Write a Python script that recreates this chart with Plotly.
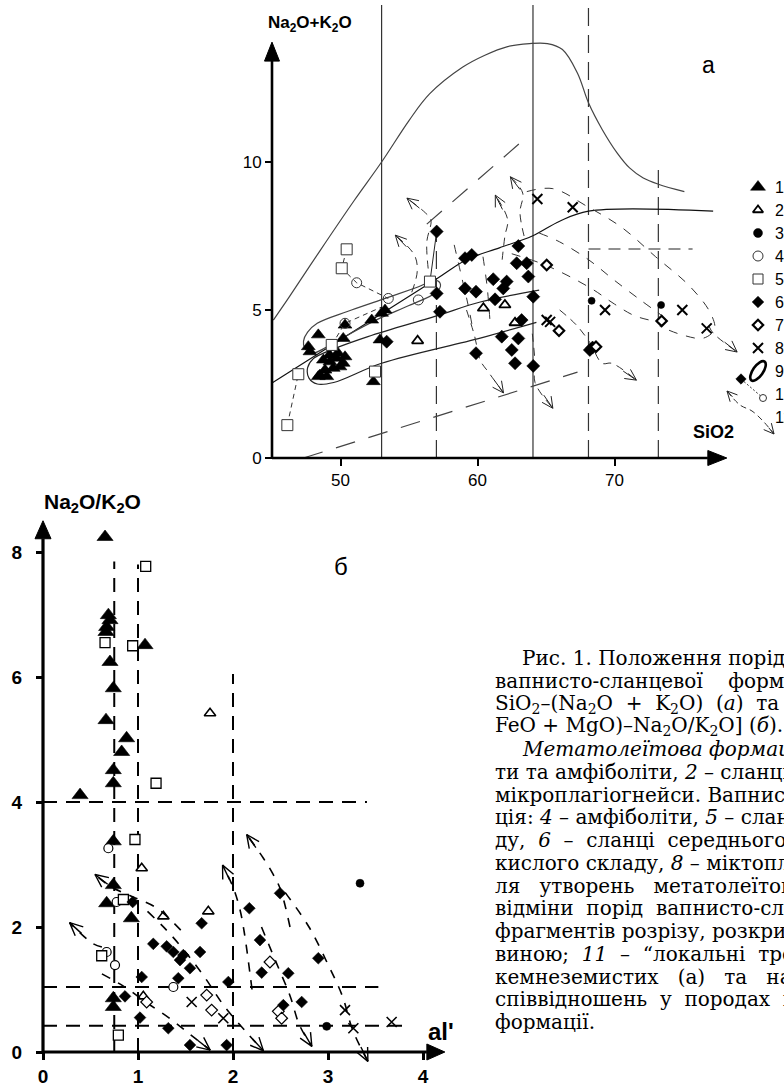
import math
import plotly.graph_objects as go

W, H = 784, 1086

# =====================  Panel (а): SiO2 – (Na2O+K2O)  =====================
a_xticks = [50, 60, 70]
a_yticks = [0, 5, 10]

# 1 – filled triangles
a_s1_x = [48.38, 47.65, 47.77, 50.33, 50.2, 52.28, 53.0, 53.25, 52.88, 52.4, 48.5, 48.87,
          49.23, 49.72, 50.2, 50.33, 48.75, 49.47, 49.96, 49.0, 48.38, 49.2, 49.8]
a_s1_y = [4.16, 3.76, 3.59, 4.49, 4.04, 4.66, 4.89, 5.0, 3.99, 2.58, 2.8, 2.97,
          3.25, 3.37, 3.2, 3.42, 3.31, 3.03, 3.08, 2.75, 2.75, 3.48, 3.55]
# 2 – open triangles
a_s2_x = [55.63, 60.43, 62.0, 62.74]
a_s2_y = [3.96, 5.06, 5.17, 4.57]
# 3 – filled circles
a_s3_x = [68.33, 73.4]
a_s3_y = [5.31, 5.17]
# 4 – open circles
a_s4_x = [51.18, 53.49, 55.68, 50.33]
a_s4_y = [5.92, 5.39, 5.34, 4.55]
# 5 – open squares
a_s5_x = [50.45, 50.09, 46.92, 46.12, 52.52, 49.36, 56.53]
a_s5_y = [7.05, 6.41, 2.83, 1.11, 2.92, 3.82, 5.96]
# 6 – filled diamonds
a_s6_x = [59.09, 59.58, 62.98, 62.86, 63.59, 63.71, 61.15, 62.13, 61.88, 59.09, 59.89, 61.28,
          57.02, 57.26, 53.37, 64.07, 63.22, 61.77, 62.98, 62.5, 62.74, 59.89, 64.07, 57.02,
          68.4, 68.2]
a_s6_y = [6.75, 6.86, 7.16, 6.58, 6.58, 6.13, 6.04, 5.96, 5.73, 5.73, 5.62, 5.36,
          5.56, 4.94, 3.93, 5.45, 4.66, 4.1, 4.04, 3.65, 3.2, 3.54, 3.11, 7.65,
          3.73, 3.65]
# 7 – open diamonds
a_s7_x = [65.05, 65.95, 73.44, 68.65]
a_s7_y = [6.52, 4.3, 4.63, 3.76]
# 8 – crosses
a_s8_x = [64.37, 66.95, 69.31, 74.95, 76.73, 65.05, 65.3]
a_s8_y = [8.75, 8.47, 5.0, 5.0, 4.38, 4.66, 4.6]

# boundary curves
a_top_x = [45.1, 46.2, 48.5, 51.0, 53.0, 55.0, 56.5, 58.9, 60.5, 62.2, 63.8, 65.1, 66.2,
           67.3, 68.1, 69.1, 70.2, 71.1, 72.1, 73.2, 75.1]
a_top_y = [4.66, 5.4, 7.0, 8.7, 10.0, 11.4, 12.3, 13.2, 13.6, 13.9, 14.0, 14.0, 13.8,
           13.0, 12.0, 11.1, 10.3, 9.8, 9.46, 9.25, 9.0]
a_bnd_x = [45.0, 57.0, 59.2, 61.6, 64.0, 66.0, 68.1, 77.2]
a_bnd_y = [2.53, 6.05, 6.7, 7.1, 7.5, 8.0, 8.34, 8.34]
# 9 – fields (envelopes)
a_envA_x = [47.3, 47.6, 48.3, 50.5, 53.0, 55.5, 57.0, 57.3, 57.0, 55.0, 53.0, 50.5, 49.0, 48.0, 47.4, 47.3]
a_envA_y = [3.95, 4.25, 4.55, 4.95, 5.35, 5.75, 6.0, 5.85, 5.6, 5.15, 4.75, 4.15, 3.75, 3.55, 3.7, 3.95]
a_envB_x = [64.5, 60.2, 57.0, 52.0, 48.8, 48.0, 47.6, 47.7, 48.3, 49.5, 53.0, 60.2, 64.3]
a_envB_y = [5.67, 5.27, 4.8, 4.1, 3.55, 3.35, 3.05, 2.7, 2.5, 2.55, 3.2, 4.05, 4.58]
# dashed long lines
a_dl1_x = [47.3, 67.3]
a_dl1_y = [0.0, 2.9]
a_dl2_x = [56.3, 63.5]
a_dl2_y = [7.9, 10.8]
# verticals / horizontals
a_vsolid = [53.0, 64.05]
a_vdash_x = [57.0, 68.1, 73.2]
a_vdash_top = [7.6, 15.3, 10.0]
a_hdash_y = [7.06]
a_hdash_x0 = [68.1]
a_hdash_x1 = [75.7]
# 10 – tie lines
a_tie1_x = [50.45, 50.09, 51.18, 53.49]
a_tie1_y = [7.05, 6.41, 5.92, 5.39]
a_tie2_x = [46.12, 46.92]
a_tie2_y = [1.11, 2.83]
a_tie3_x = [49.36, 50.33, 53.0]
a_tie3_y = [3.82, 4.55, 5.1]
a_tie4_x = [56.53, 57.02]
a_tie4_y = [5.96, 7.65]
# 11 – trends (last point = arrow tip)
a_trends = [
    ([56.4, 56.3, 56.6, 56.2, 54.85], [6.4, 7.3, 8.05, 8.28, 8.78]),
    ([55.2, 55.6, 55.4, 54.0], [5.6, 6.3, 6.85, 7.53]),
    ([61.8, 62.0, 62.2, 61.3], [6.7, 7.5, 8.05, 8.88]),
    ([63.4, 63.1, 63.3, 62.4], [7.5, 8.3, 8.95, 9.5]),
    ([59.2, 59.8, 60.2, 60.8, 61.9], [5.0, 4.1, 3.3, 2.9, 2.2]),
    ([64.0, 64.2, 64.2, 65.5], [4.2, 3.2, 2.55, 1.68]),
    ([66.0, 67.2, 68.2, 69.1, 69.8, 71.6], [5.0, 4.5, 3.9, 3.2, 3.2, 2.63]),
    ([76.9, 77.2, 78.95], [4.45, 4.22, 3.58]),
]
a_loops = [
    ([63.6, 65.5, 68.0, 70.5, 73.0, 75.5, 77.0, 77.3, 76.5, 75.0, 73.3],
     [9.0, 9.1, 8.5, 7.8, 6.8, 5.8, 4.9, 4.35, 4.05, 4.15, 4.45]),
    ([64.5, 66.0, 68.1, 70.0, 72.0, 73.5], [7.6, 7.3, 6.7, 6.0, 5.3, 4.8]),
    ([62.5, 64.5, 66.0, 68.4, 70.0, 71.5, 73.2], [6.9, 6.6, 6.3, 5.7, 5.2, 4.8, 4.6]),
    ([58.3, 58.8, 59.3, 59.6], [7.2, 6.2, 5.2, 4.5]),
    ([60.4, 60.7, 60.9], [6.8, 5.8, 4.7]),
]
a_axis_end = [78.2, 14.05]

# =====================  Panel (б): al' – Na2O/K2O  =====================
b_xticks = [0, 1, 2, 3, 4]
b_yticks = [0, 2, 4, 6, 8]

b_s1_x = [0.653, 0.688, 0.705, 0.67, 0.663, 1.074, 0.705, 0.74, 0.663, 0.88, 0.828, 0.74, 0.74,
          0.39, 0.74, 0.74, 0.67, 0.93, 0.74, 0.74]
b_s1_y = [8.24, 6.99, 6.91, 6.8, 6.72, 6.51, 6.24, 5.82, 5.31, 5.02, 4.8, 4.51, 4.3,
          4.11, 3.37, 2.67, 2.38, 2.14, 0.86, 0.72]
b_s2_x = [1.758, 1.039, 1.267, 1.74, 1.056]
b_s2_y = [5.42, 2.94, 2.17, 2.25, 0.89]
b_s3_x = [3.337, 2.986]
b_s3_y = [2.7, 0.41]
b_s4_x = [0.688, 0.775, 0.67, 0.758, 1.372]
b_s4_y = [3.26, 2.4, 1.6, 1.39, 1.04]
b_s5_x = [1.081, 0.653, 0.944, 1.19, 0.968, 0.846, 0.618, 0.793]
b_s5_y = [7.77, 6.55, 6.5, 4.3, 3.4, 2.44, 1.54, 0.27]
b_s6_x = [0.944, 1.161, 1.302, 1.372, 1.442, 1.477, 1.547, 1.424, 1.653, 1.67, 1.039, 0.863,
          1.021, 1.319, 1.547, 1.933, 1.951, 2.172, 2.284, 2.302, 2.495, 2.898, 2.582, 2.53, 2.723]
b_s6_y = [2.4, 1.73, 1.69, 1.6, 1.47, 1.55, 1.34, 1.18, 1.6, 2.06, 1.2, 0.89,
          0.55, 0.38, 0.11, 0.11, 1.12, 2.3, 1.79, 1.27, 2.54, 1.5, 1.26, 0.75, 0.8]
b_s7_x = [1.091, 1.723, 1.775, 2.389, 2.477, 2.512]
b_s7_y = [0.8, 0.91, 0.67, 1.44, 0.65, 0.54]
b_s8_x = [1.565, 1.898, 3.179, 3.267, 3.67]
b_s8_y = [0.8, 0.54, 0.67, 0.38, 0.48]

b_vdash_x = [0.75, 1.0, 2.0]
b_vdash_top = [7.85, 7.8, 6.05]
b_hdash_y = [4.0, 1.04, 0.42]
b_hdash_x1 = [3.41, 3.53, 3.8]

b_trends = [
    ([0.62, 0.52, 0.28], [1.68, 1.74, 2.07]),
    ([1.45, 1.2, 0.95, 0.72, 0.547], [1.95, 2.3, 2.48, 2.64, 2.84]),
    ([2.2, 2.12, 2.07, 2.0, 1.89], [1.0, 1.9, 2.3, 2.64, 2.99]),
    ([2.6, 2.5, 2.42, 2.32, 2.144], [2.0, 2.6, 2.85, 3.1, 3.48]),
    ([0.62, 0.85, 1.1, 1.35, 1.55, 1.76], [1.25, 1.05, 0.78, 0.52, 0.28, 0.03]),
    ([1.1, 1.3, 1.5, 1.7, 1.9, 2.15, 2.32], [2.25, 1.95, 1.6, 1.2, 0.75, 0.3, 0.02]),
    ([2.3, 2.45, 2.6, 2.7, 2.83], [2.0, 1.45, 0.9, 0.43, 0.09]),
    ([2.55, 2.8, 3.0, 3.15, 3.26, 3.42], [2.55, 2.0, 1.4, 0.9, 0.35, -0.15]),
]
b_axis_end = [4.23, 8.5]

# =====================  legend / caption  =====================
leg_labels = ['1', '2', '3', '4', '5', '6', '7', '8', '9', '10', '11']

NB2 = "\u00a0\u00a0"
NB3 = "\u00a0\u00a0\u00a0"
NB4 = "\u00a0\u00a0\u00a0\u00a0"
caption_lines = [
    (520, "Рис. 1. Положення порід"),
    (493, "вапнисто-сланцевої" + NB4 + "формації"),
    (493, "SiO<sub>2</sub>–(Na<sub>2</sub>O" + NB2 + "+" + NB2 + "K<sub>2</sub>O)" + NB2 + "(<i>а</i>)" + NB2 + "та" + NB2 + "["),
    (493, "FeO + MgO)–Na<sub>2</sub>O/K<sub>2</sub>O] (<i>б</i>)."),
    (520, "<i>Метатолеїтова формація</i>"),
    (493, "ти та амфіболіти, <i>2</i> – сланці"),
    (493, "мікроплагіогнейси. Вапнисто"),
    (493, "ція: <i>4</i> – амфіболіти, <i>5</i> – сланці"),
    (493, "ду," + NB2 + "<i>6</i>" + NB2 + "–" + NB2 + "сланці" + NB2 + "середнього" + NB2 + "с"),
    (493, "кислого складу, <i>8</i> – міктопла"),
    (493, "ля" + NB3 + "утворень" + NB3 + "метатолеїтової"),
    (493, "відміни" + NB2 + "порід" + NB2 + "вапнисто-слан"),
    (493, "фрагментів розрізу, розкритих"),
    (493, "виною;" + NB2 + "<i>11</i>" + NB2 + "–" + NB2 + "“локальні" + NB2 + "трен"),
    (493, "кемнеземистих" + NB3 + "(а)" + NB3 + "та" + NB3 + "натр"),
    (493, "співвідношень" + NB2 + "у" + NB2 + "породах" + NB2 + "в"),
    (493, "формації."),
]

# =====================  figure  =====================
fig = go.Figure()
SANS = "Liberation Sans"
SERIF = "DejaVu Serif"
DK = "#222"

# panel geometry (pixel position of axis origin, pixels per unit)
A_OX, A_OY, A_SX, A_SY, A_X0 = 272, 458, 13.7, 29.6, 45.0
B_OX, B_OY, B_SX, B_SY, B_X0 = 43, 1052, 95.0, 62.5, 0.0
SCALE = {'x': A_SX, 'y': A_SY, 'x2': B_SX, 'y2': B_SY, 'x3': 1.0, 'y3': 1.0}


def pts(x, y, xa, ya, symbol, size, fill='black', lw=0.6, lc='black'):
    fig.add_trace(go.Scatter(x=x, y=y, xaxis=xa, yaxis=ya, mode='markers', cliponaxis=False,
                             marker=dict(symbol=symbol, size=size, color=fill,
                                         line=dict(color=lc, width=lw)),
                             showlegend=False, hoverinfo='skip'))


def ln(x, y, xa, ya, width=1.0, dash='solid', color='black', shape='linear', fill=None):
    fig.add_trace(go.Scatter(x=x, y=y, xaxis=xa, yaxis=ya, mode='lines',
                             line=dict(width=width, dash=dash, color=color, shape=shape),
                             fill=fill, fillcolor=color if fill else None,
                             showlegend=False, hoverinfo='skip'))


def head_pts(xa, ya, x0, y0, x1, y1, L, hw, shaft=0.0):
    sx, sy = SCALE[xa], SCALE[ya]
    dx, dy = (x1 - x0) * sx, (y1 - y0) * sy
    d = math.hypot(dx, dy) or 1.0
    ux, uy = dx / d, dy / d
    bx, by = -ux * L, -uy * L
    nx, ny = -uy * hw, ux * hw
    p1 = (x1 + (bx + nx) / sx, y1 + (by + ny) / sy)
    p2 = (x1 + (bx - nx) / sx, y1 + (by - ny) / sy)
    sh = (x1 - ux * shaft / sx, y1 - uy * shaft / sy)
    return p1, p2, sh


def open_arrow(xa, ya, x0, y0, x1, y1, L=11, hw=5.5, width=1.0, color=DK, shaft=16):
    p1, p2, sh = head_pts(xa, ya, x0, y0, x1, y1, L, hw, shaft)
    ln([p1[0], x1, p2[0], None, sh[0], x1], [p1[1], y1, p2[1], None, sh[1], y1], xa, ya,
       width=width, color=color)


def axis_arrow(xa, ya, x0, y0, x1, y1, L, hw, width):
    p1, p2, sh = head_pts(xa, ya, x0, y0, x1, y1, L, hw, L)
    ln([x0, sh[0]], [y0, sh[1]], xa, ya, width=width, color='black')
    ln([p1[0], x1, p2[0], p1[0]], [p1[1], y1, p2[1], p1[1]], xa, ya, width=1, color='black',
       fill='toself')


# ---------- panel (а) lines ----------
for xv in a_vsolid:
    ln([xv, xv], [0, 15.3], 'x', 'y', width=1.2, color='#333')
for xv, top in zip(a_vdash_x, a_vdash_top):
    ln([xv, xv], [0, top], 'x', 'y', width=1.2, dash='18px,9px', color='#333')
for yv, x0, x1 in zip(a_hdash_y, a_hdash_x0, a_hdash_x1):
    ln([x0, x1], [yv, yv], 'x', 'y', width=1.2, dash='12px,8px', color='#222')
ln(a_top_x, a_top_y, 'x', 'y', width=1.2, color='#444', shape='spline')
ln(a_bnd_x, a_bnd_y, 'x', 'y', width=1.2, color='#111', shape='spline')
ln(a_envA_x, a_envA_y, 'x', 'y', width=1.2, color='#444', shape='spline')
ln(a_envB_x, a_envB_y, 'x', 'y', width=1.2, color='#222', shape='spline')
ln(a_dl1_x, a_dl1_y, 'x', 'y', width=1.2, dash='20px,14px', color='#444')
ln(a_dl2_x, a_dl2_y, 'x', 'y', width=1.2, dash='20px,14px', color='#444')
for tx, ty in [(a_tie1_x, a_tie1_y), (a_tie2_x, a_tie2_y), (a_tie3_x, a_tie3_y)]:
    ln(tx, ty, 'x', 'y', width=1.0, dash='5px,4px', color='#333')
ln(a_tie4_x, a_tie4_y, 'x', 'y', width=1.0, color='#222')
for lx, ly in a_loops:
    ln(lx, ly, 'x', 'y', width=1.0, dash='9px,9px', color='#333', shape='spline')
for tx, ty in a_trends:
    ln(tx, ty, 'x', 'y', width=1.0, dash='8px,6px', color='#333', shape='spline')
    open_arrow('x', 'y', tx[-2], ty[-2], tx[-1], ty[-1])

# ---------- panel (а) points ----------
pts(a_s1_x, a_s1_y, 'x', 'y', 'triangle-up', 12)
pts(a_s2_x, a_s2_y, 'x', 'y', 'triangle-up-open', 10, fill='black', lw=1.8)
pts(a_s3_x, a_s3_y, 'x', 'y', 'circle', 7)
pts(a_s4_x, a_s4_y, 'x', 'y', 'circle-open', 10, fill='#333', lw=1.0)
pts(a_s5_x, a_s5_y, 'x', 'y', 'square', 11, fill='white', lw=1.0, lc='#333')
pts(a_s6_x, a_s6_y, 'x', 'y', 'diamond', 10)
pts(a_s7_x, a_s7_y, 'x', 'y', 'diamond', 8, fill='white', lw=2.2, lc='black')
pts(a_s8_x, a_s8_y, 'x', 'y', 'x-thin', 10, fill='black', lw=2.0)

axis_arrow('x', 'y', A_X0, 0, a_axis_end[0], 0, L=19, hw=7.5, width=2.6)
axis_arrow('x', 'y', A_X0, 0, A_X0, a_axis_end[1], L=19, hw=7.5, width=2.6)

# ---------- panel (б) lines ----------
for xv, top in zip(b_vdash_x, b_vdash_top):
    ln([xv, xv], [0, top], 'x2', 'y2', width=2.0, dash='14px,9px', color='black')
for yv, x1 in zip(b_hdash_y, b_hdash_x1):
    ln([0, x1], [yv, yv], 'x2', 'y2', width=2.0, dash='14px,9px', color='black')
for tx, ty in b_trends:
    ln(tx, ty, 'x2', 'y2', width=1.6, dash='9px,9px', color='black', shape='spline')
    open_arrow('x2', 'y2', tx[-2], ty[-2], tx[-1], ty[-1], L=13, hw=6, width=1.4, color='black')

pts(b_s1_x, b_s1_y, 'x2', 'y2', 'triangle-up', 14)
pts(b_s2_x, b_s2_y, 'x2', 'y2', 'triangle-up-open', 10, fill='black', lw=1.6)
pts(b_s3_x, b_s3_y, 'x2', 'y2', 'circle', 8)
pts(b_s4_x, b_s4_y, 'x2', 'y2', 'circle', 9, fill='white', lw=1.2, lc='black')
pts(b_s5_x, b_s5_y, 'x2', 'y2', 'square', 10, fill='white', lw=1.3, lc='black')
pts(b_s6_x, b_s6_y, 'x2', 'y2', 'diamond', 9)
pts(b_s7_x, b_s7_y, 'x2', 'y2', 'diamond', 9, fill='white', lw=1.2, lc='black')
pts(b_s8_x, b_s8_y, 'x2', 'y2', 'x-thin', 10, fill='black', lw=1.6)

axis_arrow('x2', 'y2', B_X0, 0, b_axis_end[0], 0, L=18, hw=8, width=3.2)
axis_arrow('x2', 'y2', B_X0, 0, B_X0, b_axis_end[1], L=18, hw=8, width=3.2)

# ---------- legend (pixel overlay) ----------
LX, LY0, LDY = 758, 187, 23.0
leg_marks = [('triangle-up', 13, 'black', 0.5), ('triangle-up-open', 9, 'black', 1.8),
             ('circle', 9, 'black', 0.5), ('circle-open', 10, '#333', 1.0),
             ('square-open', 10, '#333', 1.0), ('diamond', 9, 'black', 0.5),
             ('diamond-open', 8, 'black', 2.2), ('x-thin', 10, 'black', 2.0)]
for i, (sym, sz, col, lw) in enumerate(leg_marks):
    pts([LX], [LY0 + i * LDY], 'x3', 'y3', sym, sz, fill=col, lw=lw, lc=col)
for i, lab in enumerate(leg_labels):
    fig.add_annotation(x=773, y=LY0 + i * LDY, xref='x3', yref='y3', text=lab, showarrow=False,
                       xanchor='left', yanchor='middle', font=dict(family=SANS, size=16, color='black'))
# 9: tilted ellipse glyph
cx, cy = LX, LY0 + 8 * LDY
rx, ry, ang = 5.0, 11.5, math.radians(35)
k = 0.5523


def rot(u, v):
    return (cx + u * math.cos(ang) - v * math.sin(ang), cy + u * math.sin(ang) + v * math.cos(ang))


P = [rot(rx, 0), rot(rx, k * ry), rot(k * rx, ry), rot(0, ry), rot(-k * rx, ry), rot(-rx, k * ry),
     rot(-rx, 0), rot(-rx, -k * ry), rot(-k * rx, -ry), rot(0, -ry), rot(k * rx, -ry), rot(rx, -k * ry)]
path = "M{:.1f},{:.1f}".format(*P[0])
for j in range(4):
    c1, c2, e = P[3 * j + 1], P[3 * j + 2], P[(3 * j + 3) % 12]
    path += " C{:.1f},{:.1f} {:.1f},{:.1f} {:.1f},{:.1f}".format(*c1, *c2, *e)
path += " Z"
fig.add_shape(type='path', path=path, xref='x3', yref='y3', line=dict(color='black', width=2.6))
# 10: tie line glyph
r10 = LY0 + 9 * LDY
ln([741, 763], [r10 - 15, r10 + 4], 'x3', 'y3', width=1.0, dash='2px,2px', color='#333')
pts([741], [r10 - 15], 'x3', 'y3', 'diamond', 8)
pts([763], [r10 + 4], 'x3', 'y3', 'circle', 7, fill='white', lw=1.0, lc='#333')
# 11: double-headed dashed trend glyph
r11 = LY0 + 10 * LDY
g11_x = [727, 740, 752, 763, 774]
g11_y = [r11 - 26, r11 - 12, r11 - 6, r11 + 4, r11 + 17]
ln(g11_x, g11_y, 'x3', 'y3', width=1.0, dash='6px,4px', color='#333', shape='spline')
open_arrow('x3', 'y3', g11_x[1], g11_y[1], g11_x[0], g11_y[0], L=10, hw=5, shaft=8)
open_arrow('x3', 'y3', g11_x[-2], g11_y[-2], g11_x[-1], g11_y[-1], L=10, hw=5, shaft=8)


# ---------- text labels ----------
def txt(px, py, s, size, family=SANS, bold=False, anchor='center'):
    fig.add_annotation(x=px, y=py, xref='x3', yref='y3', text=s, showarrow=False,
                       xanchor=anchor, yanchor='middle',
                       font=dict(family=family, size=size, color='black',
                                 weight='bold' if bold else 'normal'))


txt(310, 24, "Na<sub>2</sub>O+K<sub>2</sub>O", 17, bold=True)
txt(708, 65, "a", 23)
txt(713, 432, "SiO2", 18, bold=True)
txt(92, 503, "Na<sub>2</sub>O/K<sub>2</sub>O", 21, bold=True)
txt(341, 566, "б", 24)
txt(441, 1031, "al'", 24, bold=True)

CY0, CDY = 658, 22.75
for i, (x0, s) in enumerate(caption_lines):
    txt(x0, CY0 + i * CDY, s, 20, family=SERIF, anchor='left')

# ---------- layout ----------
ax_common = dict(showgrid=False, zeroline=False, showline=False, ticks='outside',
                 tickcolor='black', fixedrange=True)
a_xlo, a_ylo = 44.0, -0.5
b_xlo, b_ylo = -0.15, -0.3
fig.update_layout(
    width=W, height=H, margin=dict(l=0, r=0, t=0, b=0),
    paper_bgcolor='white', plot_bgcolor='rgba(0,0,0,0)', showlegend=False,
    xaxis=dict(domain=[(A_OX - (A_X0 - a_xlo) * A_SX) / W, 1.0],
               range=[a_xlo, A_X0 + (W - A_OX) / A_SX], anchor='free', position=1 - A_OY / H,
               tickvals=a_xticks, ticklen=7, tickwidth=2,
               tickfont=dict(family=SANS, size=17, color='black'), **ax_common),
    yaxis=dict(domain=[1 - (A_OY - a_ylo * A_SY) / H, 1.0], range=[a_ylo, A_OY / A_SY],
               anchor='free', position=A_OX / W,
               tickvals=a_yticks, ticklen=7, tickwidth=2,
               tickfont=dict(family=SANS, size=17, color='black'), **ax_common),
    xaxis2=dict(domain=[(B_OX + b_xlo * B_SX) / W, 470 / W], range=[b_xlo, (470 - B_OX) / B_SX],
                anchor='free', position=1 - B_OY / H,
                tickvals=b_xticks, ticklen=7, tickwidth=3,
                tickfont=dict(family=SANS, size=19, color='black', weight='bold'), **ax_common),
    yaxis2=dict(domain=[1 - (B_OY - b_ylo * B_SY) / H, 1 - 515 / H], range=[b_ylo, (B_OY - 515) / B_SY],
                anchor='free', position=B_OX / W, ticklabelstandoff=10,
                tickvals=b_yticks, ticklen=7, tickwidth=3,
                tickfont=dict(family=SANS, size=19, color='black', weight='bold'), **ax_common),
    xaxis3=dict(domain=[0, 1], range=[0, W], visible=False, anchor='y3', fixedrange=True),
    yaxis3=dict(domain=[0, 1], range=[H, 0], visible=False, anchor='x3', fixedrange=True),
)

fig.write_html("out.html", config={'displayModeBar': False, 'staticPlot': True},
               post_script="document.body.style.margin='0';document.body.style.overflow='hidden';")
